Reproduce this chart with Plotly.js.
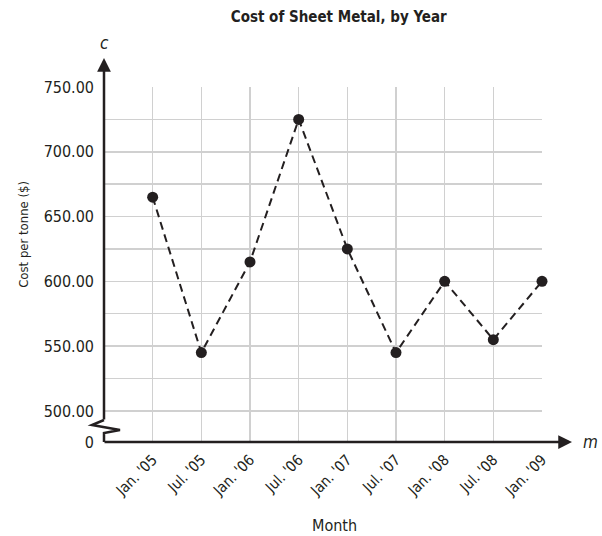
<!DOCTYPE html>
<html>
<head>
<meta charset="utf-8">
<script src="https://cdn.plot.ly/plotly-3.0.1.min.js"></script>
<style>html,body{margin:0;padding:0;background:#fff;}#chart{width:602px;height:536px;}</style>
</head>
<body>
<div id="chart"></div>
<script>
const months = ["Jan. '05","Jul. '05","Jan. '06","Jul. '06","Jan. '07","Jul. '07","Jan. '08","Jul. '08","Jan. '09"];
const cost = [665, 545, 615, 725, 625, 545, 600, 555, 600];
const yTickVals = [476, 500, 525, 550, 575, 600, 625, 650, 675, 700, 725, 750];
const yTickText = ["0", "500.00", "", "550.00", "", "600.00", "", "650.00", "", "700.00", "", "750.00"];

const FONT = '"Liberation Sans Narrow", "DejaVu Sans Condensed", Arial, sans-serif';
const INK = '#231f20';

const xIdx = months.map((m, i) => i);

const trace = {
  x: xIdx,
  y: cost,
  mode: 'lines+markers',
  type: 'scatter',
  line: {color: INK, width: 2, dash: '8px,5px'},
  marker: {color: INK, size: 11},
  cliponaxis: false,
  hoverinfo: 'skip'
};

const layout = {
  width: 602, height: 536,
  margin: {l: 104, r: 60, t: 87, b: 94},
  paper_bgcolor: '#fff', plot_bgcolor: '#fff',
  showlegend: false,
  font: {family: FONT, color: INK, size: 15},
  title: {text: '<b>Cost of Sheet Metal, by Year</b>', font: {family: FONT, size: 15, color: INK},
          x: 0.536, xref: 'paper', xanchor: 'center', y: 0.969, yref: 'container', yanchor: 'middle'},
  xaxis: {
    range: [-1, 8],
    tickvals: xIdx, ticktext: months,
    tickangle: -45,
    showgrid: true, gridcolor: '#d0d0d0', gridwidth: 1.5,
    zeroline: false, showline: false, ticks: '',
    ticklabelstandoff: 5,
    tickfont: {size: 15, color: INK},
    fixedrange: true
  },
  yaxis: {
    range: [476, 750],
    tickvals: yTickVals, ticktext: yTickText,
    showgrid: true, gridcolor: '#d0d0d0', gridwidth: 1.5,
    zeroline: false, showline: false, ticks: '',
    ticklabelstandoff: 9,
    tickfont: {size: 16, color: INK},
    fixedrange: true
  },
  shapes: [
    {type: 'path', xref: 'paper', yref: 'paper',
     path: 'M 0 0.062 L -0.0274 0.0479 L 0.0365 0.0338 L 0 0.0254 L 0 0',
     line: {color: INK, width: 2.5}, fillcolor: 'rgba(0,0,0,0)', layer: 'above'}
  ],
  annotations: [
    {xref: 'paper', yref: 'paper', x: 0, y: 1.0817, ax: 0, ay: 363, axref: 'pixel', ayref: 'pixel',
     text: '', showarrow: true, arrowhead: 2, arrowsize: 1.1, arrowwidth: 2.5, arrowcolor: INK},
    {xref: 'paper', yref: 'paper', x: 1.0685, y: 0, ax: -469, ay: 0, axref: 'pixel', ayref: 'pixel',
     text: '', showarrow: true, arrowhead: 2, arrowsize: 1.1, arrowwidth: 2.5, arrowcolor: INK},
    {xref: 'paper', yref: 'paper', x: 0, y: 1.125, text: '<i>c</i>', showarrow: false,
     font: {size: 17, color: INK}, xanchor: 'center', yanchor: 'middle'},
    {xref: 'paper', yref: 'paper', x: 1.11, y: 0, text: '<i>m</i>', showarrow: false,
     font: {size: 17, color: INK}, xanchor: 'center', yanchor: 'middle'},
    {xref: 'paper', yref: 'paper', x: -0.183, y: 0.586, text: 'Cost per tonne ($)', showarrow: false,
     textangle: -90, font: {size: 13, color: INK}, xanchor: 'center', yanchor: 'middle'},
    {xref: 'paper', yref: 'paper', x: 0.527, y: -0.234, text: 'Month', showarrow: false,
     font: {size: 16, color: INK}, xanchor: 'center', yanchor: 'middle'}
  ]
};

Plotly.newPlot('chart', [trace], layout, {displayModeBar: false, staticPlot: true});
</script>
</body>
</html>
